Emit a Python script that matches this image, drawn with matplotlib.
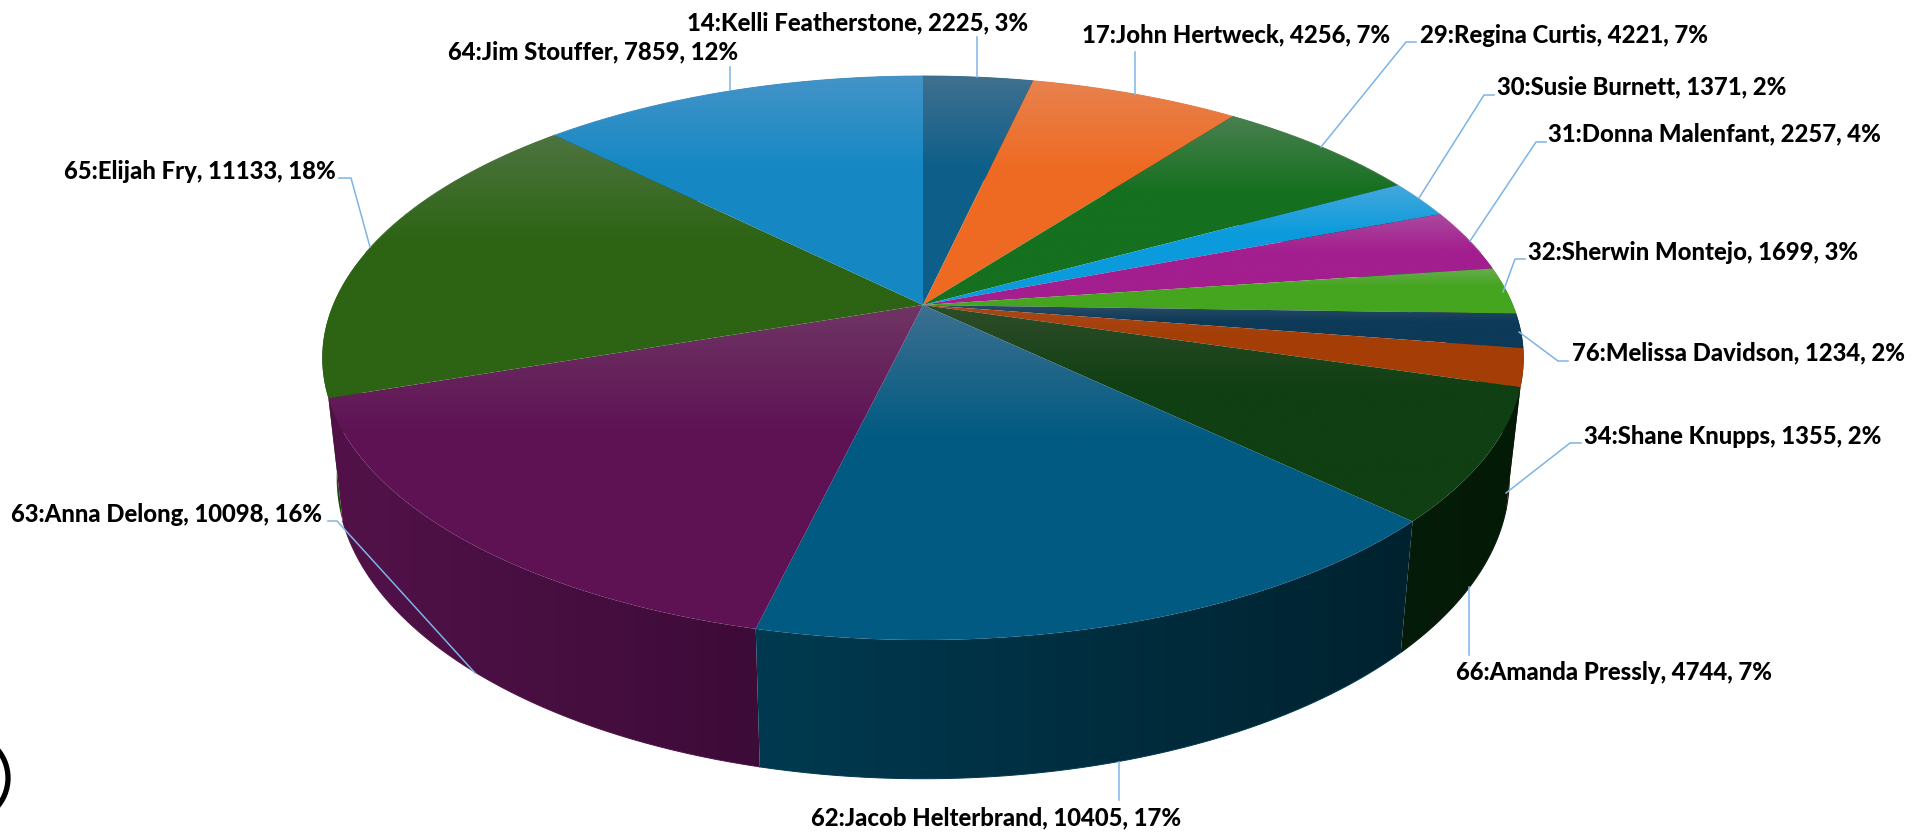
import numpy as np
import matplotlib
matplotlib.use("Agg")
import matplotlib.pyplot as plt
from matplotlib.colors import to_rgb
from matplotlib.patches import Circle, Polygon

# clockwise from 12 o'clock
ids = [14, 17, 29, 30, 31, 32, 76, 34, 66, 62, 63, 65, 64]
names = ["Kelli Featherstone", "John Hertweck", "Regina Curtis", "Susie Burnett",
         "Donna Malenfant", "Sherwin Montejo", "Melissa Davidson", "Shane Knupps",
         "Amanda Pressly", "Jacob Helterbrand", "Anna Delong", "Elijah Fry", "Jim Stouffer"]
values = [2225, 4256, 4221, 1371, 2257, 1699, 1234, 1355, 4744, 10405, 10098, 11133, 7859]
percents = [3, 7, 7, 2, 4, 3, 2, 2, 7, 17, 16, 18, 12]

base_colors = ["#0d5f8a", "#ee6a22", "#15701f", "#0b9bdc", "#a31e8f", "#45a51f", "#0c3a58",
               "#a53e06", "#0f3f12", "#015a82", "#5e1254", "#2d6414", "#1588c4"]
light_colors = ["#40708f", "#e8824e", "#4a8050", "#45a7dc", "#ab4a9e", "#66ad4e", "#2e4d66",
                "#a8481a", "#2f4d2a", "#3c7090", "#6f3564", "#4e7440", "#4494c8"]
wall_left = ["#0a3a55", "#8a3d12", "#0c4012", "#065a80", "#5e1153", "#285f11", "#062033",
             "#3a1503", "#061c0a", "#003a50", "#521249", "#1c4a10", "#0c5070"]
wall_right = ["#082f45", "#70300e", "#0a330e", "#054a68", "#4c0e44", "#204e0e", "#041a2a",
              "#2a1002", "#031a06", "#00222f", "#3d0b38", "#163c0c", "#0a425c"]

# label left edge, label centre y, leader polyline
label_pos = [(687, 23), (1082, 35), (1420, 35), (1497, 87), (1548, 134), (1528, 252), (1572, 353),
             (1584, 436), (1456, 672), (811, 818), (11, 514), (64, 171), (448, 52)]
leaders = [
    [(977, 77), (977, 37)],
    [(1135, 94), (1135, 52)],
    [(1321, 147), (1406, 42), (1416, 42)],
    [(1419, 198), (1484, 95), (1494, 95)],
    [(1470, 241), (1536, 142), (1546, 142)],
    [(1503, 292), (1515, 259), (1525, 259)],
    [(1519, 332), (1558, 361), (1568, 361)],
    [(1506, 493), (1570, 443), (1581, 443)],
    [(1469, 587), (1469, 655)],
    [(1119, 762), (1119, 800)],
    [(475, 673), (337, 521), (328, 521)],
    [(370, 247), (351, 178), (339, 178)],
    [(730, 90), (730, 67)],
]

# perspective of the disc, pixels
cx, cy = 923, 305
rx, ry, persp = 590, 272, 0.188
wall_scale_x, wall_scale_y, wall_y0 = 0.976, 1.065, 422


def top_xy(theta):
    w = 1 + persp * np.cos(theta)
    return cx + rx * np.sin(theta) / w, cy - ry * np.cos(theta) / w


def bottom_xy(theta):
    x, y = top_xy(theta)
    return cx + wall_scale_x * (x - cx), wall_y0 + wall_scale_y * (y - cy)


def clipped_gradient(px, py, grad, zorder):
    """Paints a gradient image over the box of the polygon and clips it to the polygon."""
    poly = Polygon(np.c_[px, py], closed=True, transform=ax.transData, fc="none", ec="none")
    ax.add_patch(poly)
    im = ax.imshow(grad, extent=(px.min(), px.max(), py.max(), py.min()), aspect="auto",
                   zorder=zorder, interpolation="bilinear")
    im.set_clip_path(poly)


plt.rcParams["font.family"] = ["Lato", "DejaVu Sans"]
fig = plt.figure(figsize=(19.33, 8.33), dpi=100)
ax = fig.add_axes([0, 0, 1, 1])

edges = np.cumsum([0] + values) / sum(values) * 2 * np.pi
mids = (edges[:-1] + edges[1:]) / 2

# side wall, back slices first
for n, i in enumerate(np.argsort(-np.cos(mids))):
    thetas = np.linspace(edges[i], edges[i + 1], max(4, int(values[i] / 20)))
    tx, ty = top_xy(thetas)
    bx, by = bottom_xy(thetas)
    px = np.r_[tx, bx[::-1]]
    py = np.r_[ty, by[::-1]]
    t = np.linspace(0, 1, 200)[:, None]
    c0, c1 = np.array(to_rgb(wall_left[i])), np.array(to_rgb(wall_right[i]))
    grad = (c0 * (1 - t) + c1 * t)[None, :, :]
    clipped_gradient(px, py, grad, 1 + n * 0.01)
    # soften the lower rim of the front slices only
    if np.cos(mids[i]) < -0.2:
        ax.plot(bx, by, color=wall_left[i], lw=0.7, zorder=1 + n * 0.01)

# top face, each slice has its own gloss at the upper end
for i in range(len(values)):
    thetas = np.linspace(edges[i], edges[i + 1], max(4, int(values[i] / 20)))
    px, py = top_xy(thetas)
    px = np.r_[cx, px]
    py = np.r_[cy, py]
    fade = np.clip(np.linspace(0, 1, 200) / 0.4, 0, 1)[:, None]
    c0, c1 = np.array(to_rgb(light_colors[i])), np.array(to_rgb(base_colors[i]))
    grad = (c0 * (1 - fade) + c1 * fade)[:, None, :]
    clipped_gradient(px, py, grad, 2)
    # soft rim so the clip edge is not jagged, only on the far half of the disc
    far = np.cos(thetas) > 0.2
    if far.any():
        ax.plot(px[1:][far], py[1:][far], color=light_colors[i], lw=0.7, zorder=3)

for i in range(len(values)):
    xs, ys = zip(*leaders[i])
    ax.plot(xs, ys, color="#7db4e6", lw=1.1, zorder=4, solid_joinstyle="miter")
    ax.text(label_pos[i][0], label_pos[i][1], f"{ids[i]}:{names[i]}, {values[i]}, {percents[i]}%",
            fontsize=17.2, fontweight="black", color="black", ha="left", va="center", zorder=5)

# piece of a round badge cut by the left edge
ax.add_patch(Circle((-36, 778), 44, fc="none", ec="black", lw=3.8, zorder=5))

ax.set_xlim(0, 1933)
ax.set_ylim(833, 0)
ax.axis("off")
fig.savefig("out.png", dpi=100, facecolor="white")
plt.close(fig)
